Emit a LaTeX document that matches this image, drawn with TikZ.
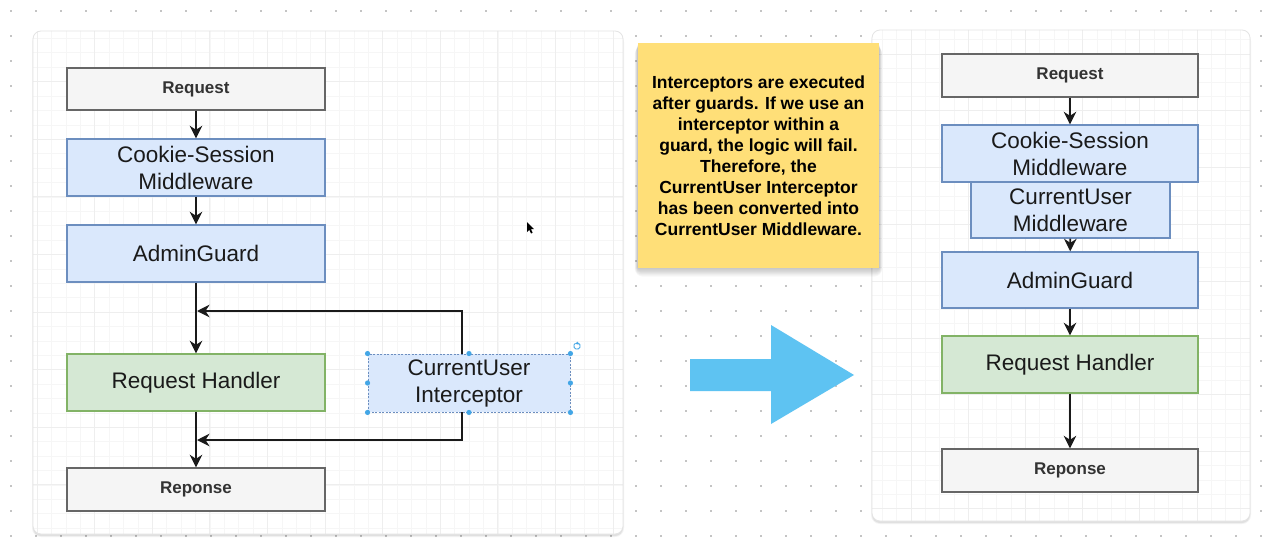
\documentclass[tikz,border=0pt]{standalone}
\usepackage{fontspec}
\setmainfont{Liberation Sans}
\usetikzlibrary{arrows.meta}
\definecolor{dotc}{HTML}{C4C4C4}
\definecolor{grayfill}{HTML}{F5F5F5}
\definecolor{grayline}{HTML}{666666}
\definecolor{bluefill}{HTML}{DAE8FC}
\definecolor{blueline}{HTML}{6C8EBF}
\definecolor{greenfill}{HTML}{D5E8D4}
\definecolor{greenline}{HTML}{82B366}
\definecolor{notefill}{HTML}{FFDF78}
\definecolor{bigarrow}{HTML}{5EC3F2}
\definecolor{handlec}{HTML}{43A6E6}
\definecolor{minorg}{HTML}{F6F6F6}
\definecolor{majorg}{HTML}{EEEEEE}
\definecolor{panelline}{HTML}{E4E4E4}
\definecolor{inktext}{HTML}{1A1A1A}
\tikzset{
  box/.style={draw, line width=1.4pt, inner sep=0pt, text=inktext, align=center,
    font=\fontsize{22.5}{27}\selectfont},
  graybox/.style={box, fill=grayfill, draw=grayline, text=black!80,
    font=\bfseries\fontsize{17}{20}\selectfont},
  bluebox/.style={box, fill=bluefill, draw=blueline},
  greenbox/.style={box, fill=greenfill, draw=greenline},
  selbox/.style={box, fill=bluefill, draw=blueline, dash pattern=on 2pt off 1.5pt, line width=0.9pt},
  flowarrow/.style={draw=inktext, line width=1.8pt, -{Stealth[length=12.5pt,width=12.5pt,inset=4pt]}},
  handledot/.style={fill=handlec},
  minorline/.style={draw=minorg, line width=0.8pt},
  majorline/.style={draw=majorg, line width=0.9pt},
}
\begin{document}
\begin{tikzpicture}[x=1pt,y=-1pt]
\useasboundingbox (0,0) rectangle (1279,543);
\fill[white] (0,0) rectangle (1279,543);
% dotted canvas
\foreach \i in {0,...,50}{
  \foreach \j in {0,...,21}{
    \fill[dotc] ({10+25*\i},{10+25*\j}) rectangle ++(2,2);
  }
}
% ---------- left panel ----------
\fill[black, opacity=0.05, rounded corners=9pt] (32,33) rectangle (624,537);
\fill[black, opacity=0.07, rounded corners=8pt] (33,32) rectangle (623,536);
\fill[white, rounded corners=8pt] (33,31) rectangle (623,534);
\begin{scope}
  \clip[rounded corners=8pt] (33,31) rectangle (623,534);
  \foreach \k in {0,...,40} \draw[minorline] ({37.1+14.4*\k},31) -- ({37.1+14.4*\k},534);
  \foreach \k in {1,...,35} \draw[minorline] (33,{24.1+14.4*\k}) -- (623,{24.1+14.4*\k});
  \foreach \k in {0,4,...,40} \draw[majorline] ({37.1+14.4*\k},31) -- ({37.1+14.4*\k},534);
  \foreach \k in {4,8,...,35} \draw[majorline] (33,{24.1+14.4*\k}) -- (623,{24.1+14.4*\k});
\end{scope}
\draw[panelline, line width=0.8pt, rounded corners=8pt] (33,31) rectangle (623,534);
% ---------- right panel ----------
\fill[black, opacity=0.05, rounded corners=9pt] (871,32) rectangle (1251,524);
\fill[black, opacity=0.07, rounded corners=8pt] (872,31) rectangle (1250,523);
\fill[white, rounded corners=8pt] (872,30) rectangle (1250,521);
\begin{scope}
  \clip[rounded corners=8pt] (872,30) rectangle (1250,521);
  \foreach \k in {-3,...,22} \draw[minorline] ({1197-14.3*\k},30) -- ({1197-14.3*\k},521);
  \foreach \k in {-1,...,32} \draw[minorline] (872,{54+14.2*\k}) -- (1250,{54+14.2*\k});
  \foreach \k in {0,4,...,20} \draw[majorline] ({1197-14.3*\k},30) -- ({1197-14.3*\k},521);
  \foreach \k in {0,4,...,32} \draw[majorline] (872,{54+14.2*\k}) -- (1250,{54+14.2*\k});
\end{scope}
\draw[panelline, line width=0.8pt, rounded corners=8pt] (872,30) rectangle (1250,521);
% ---------- sticky note ----------
\foreach \s in {1,...,8}{
  \fill[black, opacity=0.03, rounded corners=\s pt] ({638-\s*0.4},{44+\s*0.3}) rectangle ({879+\s*0.4},{267+\s*1.2});
}
\node[fill=notefill, minimum width=241pt, minimum height=225pt, inner sep=0pt,
  align=center, text=black, font=\bfseries\fontsize{17.5}{21}\selectfont] (note) at (758.5,155.5)
  {Interceptors are executed\\after guards. If we use an\\interceptor within a\\guard, the logic will fail.\\Therefore, the\\CurrentUser Interceptor\\has been converted into\\CurrentUser Middleware.};
% ---------- big arrow ----------
\fill[bigarrow] (690,359) -- (771,359) -- (771,325) -- (854,375) -- (771,424) -- (771,391) -- (690,391) -- cycle;
% ---------- left flow ----------
\node[graybox, minimum width=258pt, minimum height=42pt] (lreq) at (196,89) {Request};
\node[bluebox, minimum width=258pt, minimum height=57pt] (lcs) at (196,167.5) {Cookie-Session\\Middleware};
\node[bluebox, minimum width=258pt, minimum height=57pt] (lag) at (196,253.5) {AdminGuard};
\node[greenbox, minimum width=258pt, minimum height=57pt] (lrh) at (196,382.5) {Request Handler};
\node[selbox, minimum width=202pt, minimum height=58pt] (lci) at (469,383) {CurrentUser\\Interceptor};
\node[graybox, minimum width=258pt, minimum height=43pt] (lrs) at (196,489.5) {Reponse};
\coordinate (j1) at (197,311);
\coordinate (j2) at (197,440);
\draw[flowarrow] (lreq) -- (lcs);
\draw[flowarrow] (lcs) -- (lag);
\draw[flowarrow] (lag) -- (lrh);
\draw[flowarrow] (lrh) -- (lrs);
\draw[flowarrow] ([xshift=-7pt]lci.north) |- (j1);
\draw[flowarrow] ([xshift=-7pt]lci.south) |- (j2);
% selection handles
\foreach \a in {north west,north,north east,east,south east,south,south west,west}{
  \fill[handledot] (lci.\a) circle (2.6pt);
}
\draw[handlec, line width=0.9pt] (577,346) ++(70:3.2pt) arc[start angle=70, end angle=-240, radius=3.2pt];
\fill[handlec] (577.5,341.6) -- (575.3,343.8) -- (578.6,344.6) -- cycle;
% mouse cursor
\fill[black] (527,222) -- (527,232) -- (529.3,229.8) -- (531,233.5) -- (532.6,232.8) -- (531,229.2) -- (534,229.2) -- cycle;
% ---------- right flow ----------
\node[graybox, minimum width=256pt, minimum height=43pt] (rreq) at (1070,75.5) {Request};
\node[bluebox, minimum width=256pt, minimum height=57pt] (rcs) at (1070,153.5) {Cookie-Session\\Middleware};
\node[bluebox, minimum width=199pt, minimum height=56pt] (rcu) at (1070.5,210) {CurrentUser\\Middleware};
\node[bluebox, minimum width=256pt, minimum height=56pt] (rag) at (1070,280) {AdminGuard};
\node[greenbox, minimum width=256pt, minimum height=57pt] (rrh) at (1070,364.5) {Request Handler};
\node[graybox, minimum width=256pt, minimum height=43pt] (rrs) at (1070,470.5) {Reponse};
\draw[flowarrow] (rreq) -- (rcs);
\draw[flowarrow] (rcu) -- (rag);
\draw[flowarrow] (rag) -- (rrh);
\draw[flowarrow] (rrh) -- (rrs);
\end{tikzpicture}
\end{document}
